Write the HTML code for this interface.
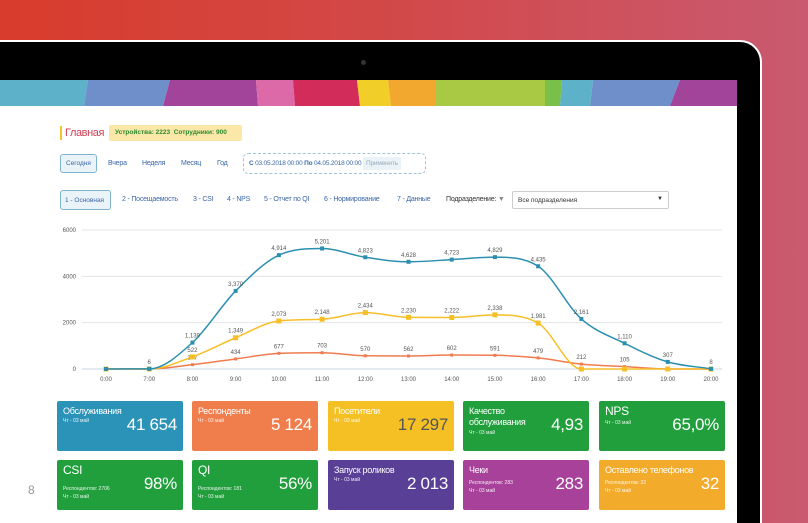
<!DOCTYPE html>
<html><head><meta charset="utf-8">
<style>
*{margin:0;padding:0;box-sizing:border-box}
html{width:808px;height:523px;overflow:hidden}
body{width:808px;height:523px;overflow:hidden;position:relative;font-family:"Liberation Sans Narrow","Liberation Sans","Noto Sans CJK SC",sans-serif;background:linear-gradient(90deg,#d83c2b 0%,#d2494a 50%,#c95a70 100%)}
.abs{position:absolute}
#bezel{left:-20px;top:40px;width:782px;height:483px;background:#000;border:2px solid #fff;border-bottom:none;border-radius:0 22px 0 0}
#screen{left:0;top:80px;width:737px;height:443px;background:#fff;overflow:hidden}
.t{position:absolute;font-size:7px;color:#3a67a8;white-space:nowrap;letter-spacing:-0.2px}
.card{position:absolute;width:126px;height:50px;border-radius:2px;color:#fff}
.card .n{position:absolute;left:6px;top:5px;font-size:9px;line-height:11px;letter-spacing:-0.3px}
.card .s{position:absolute;left:6px;font-size:5px;opacity:.9}
.card .v{position:absolute;right:6px;top:14px;font-size:17px;letter-spacing:-0.3px}
</style></head><body>
<div class="abs" id="bezel"></div>
<div class="abs" style="left:361px;top:60px;width:5px;height:5px;border-radius:50%;background:#333"></div>
<div class="abs" id="screen">
<svg class="abs" style="left:0;top:0" width="737" height="26">
<polygon points="0,0 88,0 84,26 0,26" fill="#5db1c8"/>
<polygon points="88,0 170,0 163,26 84,26" fill="#6f8fca"/>
<polygon points="170,0 256,0 258,26 163,26" fill="#a1449a"/>
<polygon points="256,0 293,0 295,26 258,26" fill="#dc6aa8"/>
<polygon points="293,0 357,0 360,26 295,26" fill="#d22d5a"/>
<polygon points="357,0 388,0 391,26 360,26" fill="#f2cf28"/>
<polygon points="388,0 436,0 436,26 391,26" fill="#f2a82e"/>
<polygon points="436,0 545,0 545,26 436,26" fill="#a9c944"/>
<polygon points="545,0 562,0 560,26 545,26" fill="#7abf4a"/>
<polygon points="562,0 593,0 590,26 560,26" fill="#5db1c8"/>
<polygon points="593,0 680,0 670,26 590,26" fill="#6f8fca"/>
<polygon points="680,0 737,0 737,26 670,26" fill="#a1449a"/>
</svg>
</div>
<div class="abs" style="left:60px;top:126px;width:2px;height:14px;background:#f2c52a"></div>
<div class="abs" style="left:65px;top:127px;font-size:11px;color:#cf3f55;letter-spacing:-0.4px">Главная</div>
<div class="abs" style="left:109px;top:125px;width:133px;height:16px;background:#fbe7a8;border-radius:2px;font-size:6.5px;color:#2d8a2d;padding:4px 0 0 6px;font-weight:bold;white-space:nowrap">Устройства: 2223&nbsp; Сотрудники: 900</div>
<div class="abs" style="left:60px;top:154px;width:37px;height:19px;border:1px solid #7fb4cf;border-radius:3px;background:#eaf3f8;font-size:6.5px;color:#3a67a8;padding:5px 0 0 5px">Сегодня</div>
<div class="t" style="left:108px;top:160px">Вчера</div>
<div class="t" style="left:142px;top:160px">Неделя</div>
<div class="t" style="left:181px;top:160px">Месяц</div>
<div class="t" style="left:217px;top:160px">Год</div>
<div class="abs" style="left:243px;top:153px;width:183px;height:21px;border:1px dashed #9cc3d8;border-radius:5px;font-size:6.5px;color:#3a67a8;padding:6px 0 0 5px;white-space:nowrap;letter-spacing:-0.2px"><b>С</b> 03.05.2018 00:00 <b>По</b> 04.05.2018 00:00 <span style="background:#eaf4f8;color:#9ab;padding:3px 3px">Применить</span></div>
<div class="abs" style="left:60px;top:190px;width:51px;height:20px;border:1px solid #7fb4cf;border-radius:3px;background:#eaf3f8;font-size:6.5px;color:#3a67a8;padding:6px 0 0 4px;white-space:nowrap">1 - Основная</div>
<div class="t" style="left:122px;top:196px">2 - Посещаемость</div>
<div class="t" style="left:193px;top:196px">3 - CSI</div>
<div class="t" style="left:227px;top:196px">4 - NPS</div>
<div class="t" style="left:264px;top:196px">5 - Отчет по QI</div>
<div class="t" style="left:324px;top:196px">6 - Нормирование</div>
<div class="t" style="left:397px;top:196px">7 - Данные</div>
<div class="t" style="left:446px;top:196px;color:#333">Подразделение: <span style="color:#888">▼</span></div>
<div class="abs" style="left:512px;top:191px;width:157px;height:18px;border:1px solid #ccc;border-radius:2px;font-size:6.5px;color:#333;padding:5px 0 0 5px">Все подразделения<span style="position:absolute;right:5px;top:4px;font-size:6px">▼</span></div>

<svg class="abs" id="chart" style="left:0;top:0" width="808" height="400"></svg>

<div class="abs" style="left:28px;top:483px;font-size:12px;color:#999">8</div>

<div class="card" style="left:57px;top:401px;background:#2b93b8"><div class="n">Обслуживания</div><div class="s" style="top:17px">Чт - 03 май</div><div class="v">41 654</div></div>
<div class="card" style="left:192px;top:401px;background:#ef7e4c"><div class="n">Респонденты</div><div class="s" style="top:17px">Чт - 03 май</div><div class="v">5 124</div></div>
<div class="card" style="left:328px;top:401px;background:#f5c023"><div class="n">Посетители</div><div class="s" style="top:17px">Чт - 03 май</div><div class="v" style="color:#555">17 297</div></div>
<div class="card" style="left:463px;top:401px;background:#209f3c"><div class="n">Качество<br>обслуживания</div><div class="s" style="top:29px">Чт - 03 май</div><div class="v">4,93</div></div>
<div class="card" style="left:599px;top:401px;background:#209f3c"><div class="n" style="font-size:12px">NPS</div><div class="s" style="top:19px">Чт - 03 май</div><div class="v">65,0%</div></div>
<div class="card" style="left:57px;top:460px;background:#209f3c"><div class="n" style="font-size:12px">CSI</div><div class="s" style="top:26px">Респондентов: 2706</div><div class="s" style="top:34px">Чт - 03 май</div><div class="v">98%</div></div>
<div class="card" style="left:192px;top:460px;background:#209f3c"><div class="n" style="font-size:12px">QI</div><div class="s" style="top:26px">Респондентов: 181</div><div class="s" style="top:34px">Чт - 03 май</div><div class="v">56%</div></div>
<div class="card" style="left:328px;top:460px;background:#593f95"><div class="n">Запуск роликов</div><div class="s" style="top:17px">Чт - 03 май</div><div class="v">2 013</div></div>
<div class="card" style="left:463px;top:460px;background:#a8419a"><div class="n">Чеки</div><div class="s" style="top:20px">Респондентов: 283</div><div class="s" style="top:28px">Чт - 03 май</div><div class="v">283</div></div>
<div class="card" style="left:599px;top:460px;background:#f2ab2b"><div class="n">Оставлено телефонов</div><div class="s" style="top:20px">Респондентов: 32</div><div class="s" style="top:28px">Чт - 03 май</div><div class="v">32</div></div>

<script>
const categories=["0:00","7:00","8:00","9:00","10:00","11:00","12:00","13:00","14:00","15:00","16:00","17:00","18:00","19:00","20:00"];
const blueValues=[0,6,1139,3370,4914,5201,4823,4628,4723,4829,4435,2161,1110,307,8];
const yellowValues=[0,0,522,1349,2073,2148,2434,2230,2222,2338,1981,0,0,0,0];
const redValues=[0,0,187,434,677,703,570,562,602,591,479,212,105,0,0];
const yTicks=[0,2000,4000,6000];
const blueLabels=["","6","1,139","3,370","4,914","5,201","4,823","4,628","4,723","4,829","4,435","2,161","1,110","307","8"];
const yellowLabels=["","","522","1,349","2,073","2,148","2,434","2,230","2,222","2,338","1,981","","","",""];
const redLabels=["","","187","434","677","703","570","562","602","591","479","212","105","",""];

const svg=document.getElementById('chart');
const NS='http://www.w3.org/2000/svg';
const x0=106,x1=711,yBase=369,yTop=230,yMax=6000;
const X=i=>x0+i*(x1-x0)/(categories.length-1);
const Y=v=>yBase-v/yMax*(yBase-yTop);
function mk(tag,attrs){const e=document.createElementNS(NS,tag);for(const k in attrs)e.setAttribute(k,attrs[k]);svg.appendChild(e);return e;}
yTicks.forEach(t=>{
  const l=mk('line',{x1:82,x2:722,y1:Y(t),y2:Y(t),stroke:t===0?'#c8d6e6':'#e4e4e4','stroke-width':1});
  
  
  const tx=mk('text',{x:76,y:Y(t)+2,'text-anchor':'end','font-size':6,fill:'#555'});
  tx.textContent=t;
  
  
});
categories.forEach((c,i)=>{
  const tx=mk('text',{x:X(i),y:381,'text-anchor':'middle','font-size':6,fill:'#555'});
  tx.textContent=c;
  
  
});
function path(vals){
  const p=vals.map((v,i)=>[X(i),Y(v)]);const n=p.length;
  const d=[],m=[];
  for(let i=0;i<n-1;i++)d.push((p[i+1][1]-p[i][1])/(p[i+1][0]-p[i][0]));
  for(let i=0;i<n;i++){
    if(i===0)m.push(d[0]);else if(i===n-1)m.push(d[n-2]);
    else m.push(d[i-1]*d[i]<=0?0:(d[i-1]+d[i])/2);
  }
  for(let i=0;i<n-1;i++){if(d[i]===0){m[i]=0;m[i+1]=0;continue;}
    const a=m[i]/d[i],b=m[i+1]/d[i],s=a*a+b*b;if(s>9){const t=3/Math.sqrt(s);m[i]=t*a*d[i];m[i+1]=t*b*d[i];}}
  let s='M'+p[0][0]+','+p[0][1];
  for(let i=0;i<n-1;i++){const h=(p[i+1][0]-p[i][0])/3;
    s+=' C'+(p[i][0]+h)+','+(p[i][1]+m[i]*h)+' '+(p[i+1][0]-h)+','+(p[i+1][1]-m[i+1]*h)+' '+p[i+1][0]+','+p[i+1][1];}
  return s;
}
function series(vals,labels,color,name,ms){
  const pl=mk('path',{d:path(vals),fill:'none',stroke:color,'stroke-width':1.5});
  
  
  vals.forEach((v,i)=>{
    const r=mk('rect',{x:X(i)-ms/2,y:Y(v)-ms/2,width:ms,height:ms,fill:color});
    
    
    if(labels[i]){const t=mk('text',{x:X(i),y:Y(v)-5,'text-anchor':'middle','font-size':6,fill:'#555'});
      t.textContent=labels[i];
      
      }
  });
}
series(redValues,redLabels,'#f07b4f','red-series',3);
series(yellowValues,yellowLabels,'#f6bf28','yellow-series',5);
series(blueValues,blueLabels,'#2b8fb0','blue-series',4);
</script>
</body></html>
